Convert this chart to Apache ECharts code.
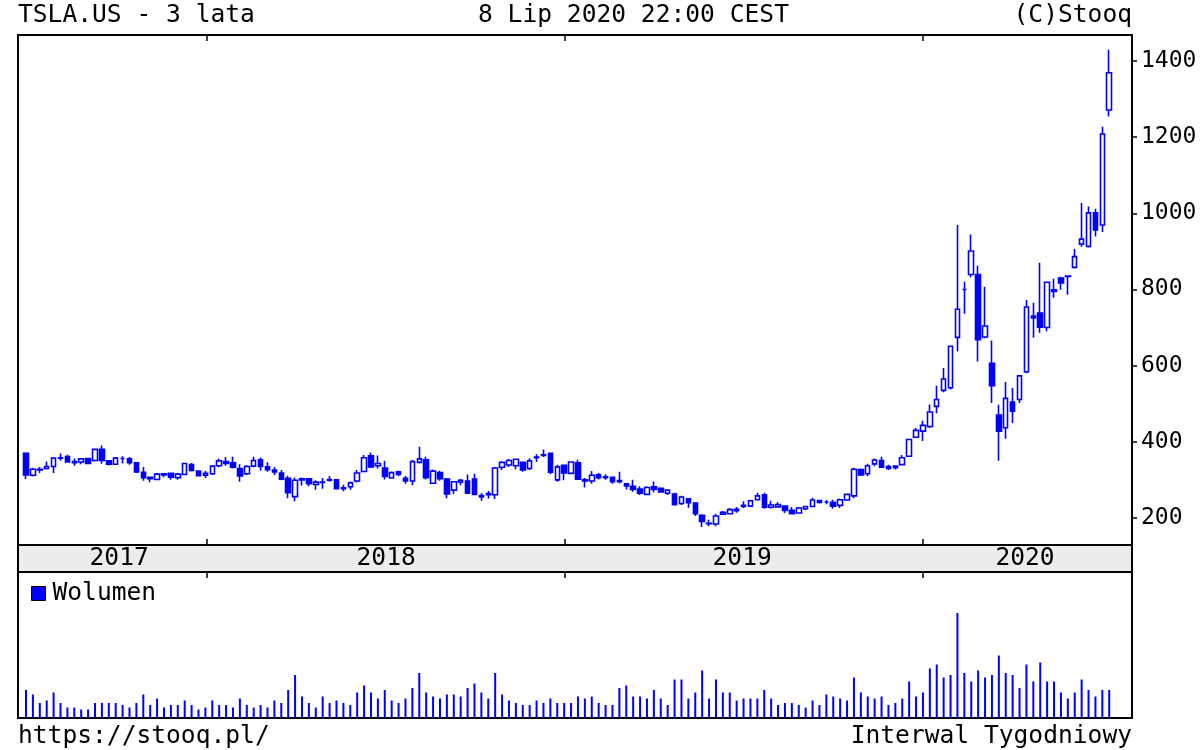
<!DOCTYPE html>
<html><head><meta charset="utf-8">
<script src="https://cdn.jsdelivr.net/npm/echarts@6/dist/echarts.min.js"></script>
<style>html,body{margin:0;padding:0;background:#fff}#c{width:1200px;height:750px}</style>
</head><body><div id="c"></div>
<script>
// Weekly candles, Jul 2017 - Jul 2020 (index = week number)
const opens = [370,312,326,330,335,357,361,345,347,356,351,380,350,341,356,355,345,320,307,301,313,317,306,314,340,323,
312,316,337,348,345,330,316,336,353,334,326,318,304,256,303,303,288,293,299,300,277,282,297,322,363,337,331,305,321,304,297,346,353,291,319,302,273,294,297,302,255,264,261,333,339,337,346,330,360,364,370,300,
338,317,345,300,297,313,306,307,298,290,283,276,262,282,278,265,263,238,250,239,207,186,184,210,211,219,230,231,248,261,228,229,231,220,213,224,230,246,242,241,233,247,258,327,316,342,351,335,332,340,362,412,
428,440,493,535,542,674,800,839,839,675,606,470,437,504,511,584,730,738,700,795,830,834,858,919,913,1001,969,1271];
const highs = [371,332,334,348,358,369,366,356,357,358,380,390,352,360,362,360,347,334,308,318,317,318,318,345,344,324,
323,338,356,360,361,341,339,361,359,346,334,326,311,306,306,305,299,305,310,301,287,296,326,365,372,364,350,322,324,310,352,387,361,327,324,305,297,302,314,316,265,271,334,349,355,355,348,357,367,380,371,340,
339,348,353,305,323,318,315,308,321,291,300,283,283,296,280,275,266,258,252,240,210,195,211,218,226,229,244,248,266,266,245,241,232,229,229,232,253,248,247,248,251,263,332,330,342,356,361,340,338,365,406,436,
455,498,547,594,653,969,820,944,862,807,666,497,557,541,575,772,765,870,819,828,833,835,906,1027,1018,1012,1227,1429];
const lows = [302,309,318,327,318,350,345,337,341,343,348,342,338,340,343,340,318,298,294,300,307,300,300,313,322,310,
305,313,333,337,330,295,313,333,324,321,313,299,252,244,285,283,274,277,295,276,270,274,293,320,331,330,301,305,310,290,286,343,301,289,298,252,263,286,264,260,245,251,250,326,334,328,321,326,347,360,315,295,
299,316,300,280,290,301,300,290,291,275,269,260,260,267,266,260,234,234,227,205,176,178,178,208,210,214,226,230,246,224,225,227,213,211,213,220,229,238,236,224,226,247,252,310,310,336,332,326,327,339,362,410,
402,436,475,530,537,637,736,832,611,672,502,350,408,449,502,580,673,686,690,778,799,786,855,912,910,939,951,1254];
const closes = [313,328,328,335,357,358,347,348,355,343,380,351,341,357,356,345,321,306,303,315,316,307,315,343,325,311,
317,336,350,343,333,310,335,351,335,327,321,302,266,299,300,290,294,294,301,277,279,292,318,358,334,343,309,319,314,297,348,355,306,323,303,263,295,299,265,262,259,261,331,346,351,354,326,350,358,366,320,334,
318,347,302,297,312,306,308,295,295,284,275,265,280,275,268,273,235,255,240,211,191,185,205,215,222,223,233,245,258,228,234,235,220,211,226,230,247,241,242,231,248,262,328,313,337,352,333,330,336,358,406,430,
443,478,511,565,651,748,800,901,668,704,547,428,514,480,573,754,725,701,819,799,817,835,886,932,1001,956,1208,1369];
// Weekly volume (relative units)
const volumes = [56,47,30,35,51,30,21,21,17,17,30,30,30,30,26,21,30,47,26,39,21,26,26,35,26,17,21,35,26,26,21,39,26,21,26,21,35,30,56,86,
43,30,21,43,30,35,30,26,51,65,51,39,56,35,30,39,60,90,51,43,39,47,47,43,60,69,51,39,90,47,35,30,26,26,35,30,39,30,30,
30,43,39,43,30,26,26,60,65,43,43,39,56,39,26,77,77,39,51,95,39,77,51,51,35,39,39,39,56,39,26,30,30,26,21,35,26,47,43,39,
35,81,51,43,39,43,26,30,39,73,43,51,99,107,81,86,210,90,73,95,81,86,125,90,86,60,107,73,111,73,73,51,39,51,77,56,43,56,56];
const priceTicks = [200,400,600,800,1000,1200,1400];
const yearTicks = [26.2, 78.1, 129.9];
const yearLabels = ['2017','2018','2019','2020'];
const yearLabelPos = [13.5, 52.2, 103.8, 144.8];

const X_MIN = -1.16, X_MAX = 160.3;
const FONT = 'DejaVu Sans Mono';
const candles = opens.map((o,i)=>[i,o,closes[i],lows[i],highs[i]]);
const vols = volumes.map((v,i)=>[i,v]);
const ts = (s)=>({fontFamily:FONT,fontSize:s,fontWeight:'normal',color:'#000'});
const tickStyle = {color:'#000',width:1.5};

const chart = echarts.init(document.getElementById('c'), null, {renderer:'canvas'});
chart.setOption({
  animation:false,
  backgroundColor:'#fff',
  title:[
    {text:'TSLA.US - 3 lata', left:18, top:3, padding:0, textStyle:ts(24.6)},
    {text:'8 Lip 2020 22:00 CEST', left:478, top:3, padding:0, textStyle:ts(24.6)},
    {text:'(C)Stooq', right:68, top:3, padding:0, textStyle:ts(24.6)},
    {text:'https://stooq.pl/', left:18, top:724, padding:0, textStyle:ts(24.6)},
    {text:'Interwal Tygodniowy', right:68, top:724, padding:0, textStyle:ts(24.6)}
  ],
  legend:{data:['Wolumen'], left:31, top:581, padding:0, icon:'rect', itemWidth:14, itemHeight:14,
    itemStyle:{borderColor:'#000',borderWidth:1}, textStyle:{...ts(24.6), padding:[0,0,0,2]}},
  grid:[
    {left:18, top:35, width:1114, height:510, show:true, borderColor:'#000', borderWidth:2, backgroundColor:'#fff', containLabel:false, outerBoundsMode:'none'},
    {left:18, top:545, width:1114, height:27, show:true, borderColor:'#000', borderWidth:2, backgroundColor:'#ececec', containLabel:false, outerBoundsMode:'none'},
    {left:18, top:572, width:1114, height:146, show:true, borderColor:'#000', borderWidth:2, backgroundColor:'#fff', containLabel:false, outerBoundsMode:'none'}
  ],
  xAxis:[
    {gridIndex:0, type:'value', min:X_MIN, max:X_MAX, position:'bottom', axisLine:{show:false, onZero:false}, splitLine:{show:false},
      axisLabel:{show:false}, axisTick:{show:true, inside:true, length:6, customValues:yearTicks, lineStyle:tickStyle}},
    {gridIndex:0, type:'value', min:X_MIN, max:X_MAX, position:'top', axisLine:{show:false, onZero:false}, splitLine:{show:false},
      axisLabel:{show:false}, axisTick:{show:true, inside:true, length:6, customValues:yearTicks, lineStyle:tickStyle}},
    {gridIndex:1, type:'value', min:X_MIN, max:X_MAX, position:'top', axisLine:{show:false, onZero:false}, splitLine:{show:false},
      axisTick:{show:false},
      axisLabel:{show:true, inside:true, margin:1, customValues:yearLabelPos, ...ts(24.6),
        formatter:(v)=>{const k=yearLabelPos.findIndex(p=>Math.abs(p-v)<0.01);return k>=0?yearLabels[k]:'';}}},
    {gridIndex:2, type:'value', min:X_MIN, max:X_MAX, position:'top', axisLine:{show:false, onZero:false}, splitLine:{show:false},
      axisLabel:{show:false}, axisTick:{show:true, inside:true, length:6, customValues:yearTicks, lineStyle:tickStyle}}
  ],
  yAxis:[
    {gridIndex:0, type:'value', position:'right', min:129, max:1468, splitLine:{show:false},
      axisLine:{show:true, onZero:false, lineStyle:{color:'#000',width:2}},
      axisTick:{show:true, length:5, customValues:priceTicks, lineStyle:tickStyle},
      axisLabel:{show:true, margin:9, customValues:priceTicks, ...ts(23), formatter:(v)=>String(v)}},
    {gridIndex:1, type:'value', show:false},
    {gridIndex:2, type:'value', min:0, max:292, show:false}
  ],
  series:[
    {type:'candlestick', name:'TSLA', xAxisIndex:0, yAxisIndex:0, data:candles, encode:{x:0, y:[1,2,3,4]},
      barWidth:5, itemStyle:{color:'#ffffff', color0:'#0000ff', borderColor:'#0000ff', borderColor0:'#0000ff',
      borderColorDoji:'#0000ff', borderWidth:1.6}},
    {type:'bar', name:'Wolumen', xAxisIndex:3, yAxisIndex:2, data:vols, barWidth:2, itemStyle:{color:'#0000ff'}}
  ]
});
</script></body></html>
